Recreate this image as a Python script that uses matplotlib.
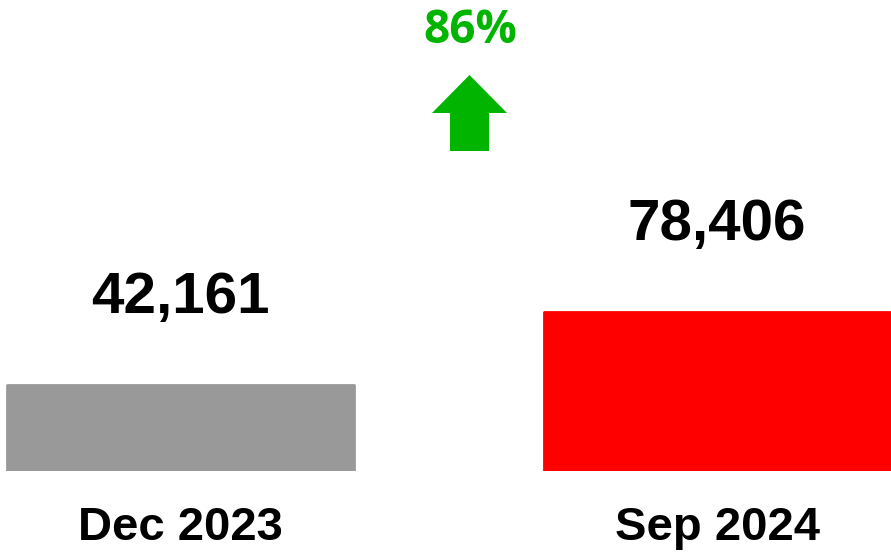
import matplotlib.pyplot as plt
from matplotlib.patches import FancyArrow

periods = ['Dec 2023', 'Sep 2024']
counts = [42161, 78406]
bar_colors = ['#999999', '#fe0000']
change_label = '86%'

fig = plt.figure(figsize=(8.91, 5.55), dpi=100)
# axes spans whole width, bottom sits on the bar baseline
ax = fig.add_axes([0, 84 / 555, 1, 471 / 555])
ax.set_xlim(-0.3364, 1.3243)
ax.set_ylim(0, 232000)
ax.axis('off')

x = list(range(len(periods)))
ax.bar(x, counts, width=0.645, color=bar_colors, edgecolor=bar_colors,
       linewidth=2, joinstyle='round')

for xi, v, lab in zip(x, counts, periods):
    ax.annotate(f'{v:,}', (xi, v), xytext=(0, 52), textcoords='offset points',
                ha='center', va='baseline', fontsize=42, fontweight='bold',
                family='Liberation Sans', color='black')
    ax.annotate(lab, (xi, 0), xytext=(0, -50), textcoords='offset points',
                ha='center', va='baseline', fontsize=34, fontweight='bold',
                family='Liberation Sans', color='black')

# change indicator
green = '#00b400'
fig.text(470 / 891, 1 - 43 / 555, change_label, ha='center', va='baseline',
         fontsize=33, fontweight='bold', family='Open Sans', color=green)
arrow = FancyArrow(469.5 / 891, 1 - 151 / 555, 0, 76 / 555, width=39 / 891,
                   head_width=75 / 891, head_length=38 / 555,
                   length_includes_head=True, color=green, lw=0,
                   transform=fig.transFigure)
fig.patches.append(arrow)

fig.savefig('out.png', dpi=100)
